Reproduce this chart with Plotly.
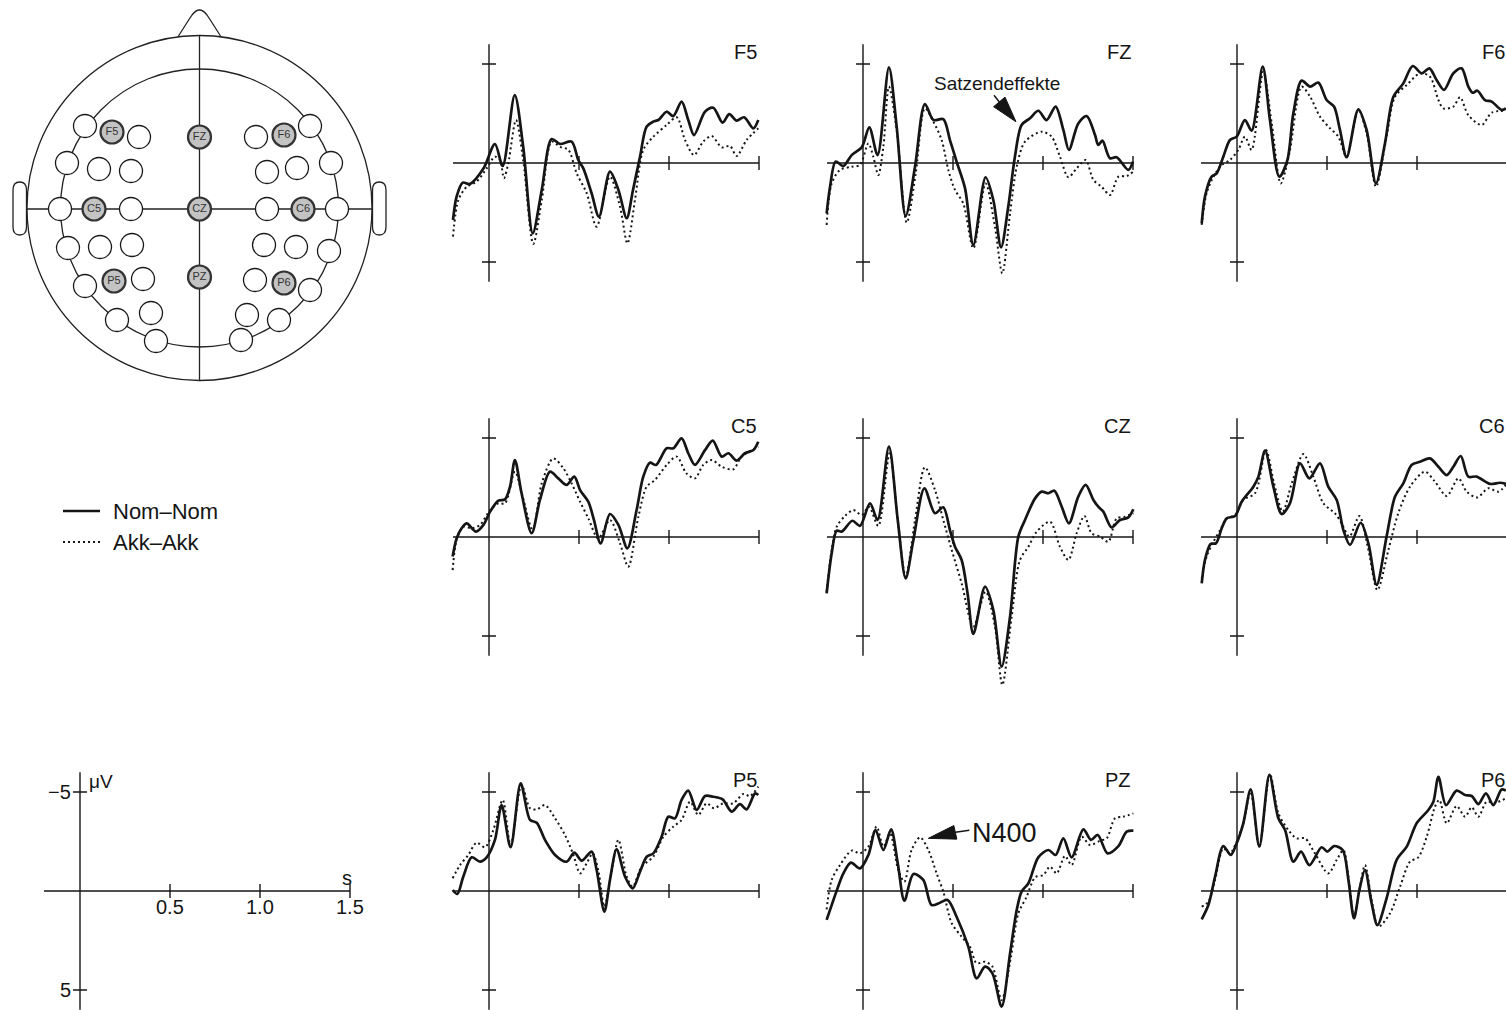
import plotly.graph_objects as go

W, H = 1506, 1010
S_PX = 180.0       # pixels per second on every time axis
UV_PX = 19.8       # pixels per microvolt on every amplitude axis
FONT = "Liberation Sans, Arial, Helvetica, sans-serif"
INK = "#151515"

# ---- grand-average ERPs: (time in s, amplitude in µV), negative plotted up ----
F5_NOM = [(-0.20, 2.88), (-0.18, 1.70), (-0.146, 0.99), (-0.106, 1.06), (-0.03, 0.27), (0.033, -0.96),
          (0.076, 0.15), (0.143, -3.43), (0.19, -0.82), (0.243, 3.55), (0.293, 1.36), (0.348, -1.21),
          (0.394, -0.96), (0.459, -1.08), (0.496, -0.15), (0.524, 0.27), (0.57, 1.53), (0.611, 2.71),
          (0.672, 0.44), (0.719, 1.36), (0.765, 2.79), (0.80, 1.36), (0.839, -0.32), (0.876, -1.84),
          (0.913, -2.09), (0.941, -2.17), (0.987, -2.59), (1.024, -2.37), (1.07, -3.10), (1.107, -2.17),
          (1.139, -1.41), (1.20, -2.59), (1.246, -2.79), (1.298, -2.04), (1.335, -2.47), (1.376, -2.14),
          (1.417, -2.31), (1.469, -1.75), (1.496, -2.17)]
F5_AKK = [(-0.20, 3.72), (-0.17, 1.87), (-0.124, 1.20), (-0.069, 0.94), (-0.013, 0.27), (0.033, -0.32),
          (0.061, -0.15), (0.083, 0.77), (0.107, 0.02), (0.15, -2.17), (0.19, -0.15), (0.246, 4.09),
          (0.293, 1.87), (0.348, -1.08), (0.394, -0.82), (0.441, -0.66), (0.487, 0.52), (0.543, 1.53),
          (0.598, 3.22), (0.672, 0.69), (0.728, 2.21), (0.769, 4.06), (0.811, 1.87), (0.857, -0.66),
          (0.913, -1.33), (0.987, -1.92), (1.043, -2.31), (1.089, -1.16), (1.139, -0.40), (1.19, -1.08),
          (1.237, -1.36), (1.293, -0.79), (1.339, -0.86), (1.376, -0.35), (1.431, -1.16), (1.496, -1.75)]

FZ_NOM = [(-0.202, 2.54), (-0.183, 1.20), (-0.152, -0.07), (-0.109, 0.15), (-0.063, -0.40), (-0.007, -0.79),
          (0.035, -1.80), (0.081, -0.40), (0.144, -4.83), (0.187, -1.84), (0.237, 2.68), (0.289, 0.19),
          (0.344, -2.98), (0.391, -2.17), (0.446, -2.21), (0.483, -1.16), (0.52, -0.07), (0.567, 1.28),
          (0.613, 4.14), (0.681, 0.72), (0.724, 1.87), (0.767, 4.26), (0.807, 2.21), (0.844, -0.32),
          (0.881, -1.92), (0.928, -2.26), (0.974, -2.64), (1.02, -2.17), (1.07, -2.85), (1.113, -1.67),
          (1.144, -0.66), (1.196, -2.00), (1.243, -2.37), (1.289, -1.41), (1.307, -0.91), (1.33, -1.13),
          (1.372, -0.24), (1.409, -0.29), (1.474, 0.35), (1.50, -0.07)]
FZ_AKK = [(-0.202, 3.13), (-0.174, 1.03), (-0.128, 0.35), (-0.063, 0.19), (-0.017, 0.10), (0.03, -0.99),
          (0.057, -0.32), (0.085, 0.61), (0.113, -0.82), (0.144, -3.86), (0.187, -1.67), (0.243, 3.01),
          (0.293, 0.52), (0.344, -2.76), (0.391, -2.09), (0.437, -1.16), (0.474, 0.35), (0.511, 1.36),
          (0.557, 2.04), (0.613, 4.31), (0.681, 1.03), (0.733, 3.22), (0.774, 5.57), (0.817, 2.54),
          (0.854, 0.19), (0.90, -1.08), (0.993, -1.58), (1.048, -1.33), (1.094, -0.32), (1.141, 0.72),
          (1.187, 0.27), (1.237, -0.15), (1.28, 0.86), (1.326, 1.20), (1.372, 1.62), (1.419, 0.69),
          (1.465, 0.66), (1.50, 0.44)]

F6_NOM = [(-0.196, 3.05), (-0.178, 1.70), (-0.141, 0.69), (-0.113, 0.52), (-0.076, -0.32), (-0.039, -1.16),
          (-0.002, -1.33), (0.044, -2.17), (0.081, -1.63), (0.143, -4.87), (0.183, -2.17), (0.235, 0.69),
          (0.28, -0.15), (0.313, -2.51), (0.359, -4.16), (0.406, -3.86), (0.452, -4.06), (0.498, -3.18),
          (0.539, -2.85), (0.572, -1.67), (0.609, -0.29), (0.674, -2.71), (0.72, -1.67), (0.772, 1.03),
          (0.822, -0.99), (0.869, -3.35), (0.924, -4.02), (0.976, -4.90), (1.026, -4.53), (1.069, -4.78),
          (1.109, -4.19), (1.15, -3.69), (1.202, -4.53), (1.248, -4.78), (1.285, -3.86), (1.309, -3.55),
          (1.335, -3.65), (1.378, -3.18), (1.415, -3.10), (1.47, -2.68), (1.494, -2.76)]
F6_AKK = [(-0.196, 3.13), (-0.169, 1.53), (-0.131, 0.69), (-0.085, 0.10), (-0.039, -0.15), (0.007, -0.66),
          (0.044, -1.33), (0.081, -0.66), (0.146, -4.61), (0.193, -2.00), (0.243, 1.03), (0.291, -0.49),
          (0.359, -3.86), (0.406, -3.35), (0.461, -2.34), (0.517, -1.75), (0.563, -1.33), (0.609, -0.32),
          (0.674, -2.68), (0.72, -1.50), (0.772, 1.20), (0.831, -1.33), (0.878, -3.35), (0.943, -3.94),
          (1.017, -4.53), (1.072, -4.36), (1.119, -3.18), (1.146, -2.76), (1.202, -2.85), (1.239, -3.32),
          (1.285, -2.42), (1.359, -1.92), (1.415, -2.54), (1.494, -2.64)]

C5_NOM = [(-0.202, 0.99), (-0.18, 0.07), (-0.152, -0.44), (-0.124, -0.69), (-0.072, -0.27), (-0.031, -0.61),
          (0.006, -1.28), (0.052, -1.84), (0.089, -1.90), (0.117, -2.54), (0.144, -3.89), (0.181, -2.21),
          (0.237, -0.19), (0.283, -1.87), (0.339, -3.30), (0.385, -2.96), (0.431, -2.63), (0.474, -3.05),
          (0.506, -2.37), (0.552, -1.78), (0.583, -0.86), (0.62, 0.32), (0.672, -1.16), (0.719, -0.61),
          (0.769, 0.57), (0.82, -1.36), (0.857, -3.05), (0.894, -3.75), (0.928, -3.64), (0.987, -4.48),
          (1.024, -4.48), (1.07, -4.98), (1.107, -4.23), (1.144, -3.64), (1.20, -4.39), (1.243, -4.87),
          (1.293, -4.06), (1.33, -4.23), (1.376, -3.86), (1.422, -4.23), (1.469, -4.39), (1.496, -4.81)]
C5_AKK = [(-0.202, 1.67), (-0.18, 0.15), (-0.143, -0.52), (-0.096, -0.44), (-0.05, -0.61), (0.006, -1.36),
          (0.052, -1.70), (0.089, -1.70), (0.144, -3.30), (0.187, -2.04), (0.243, -0.35), (0.293, -2.71),
          (0.357, -3.97), (0.413, -3.47), (0.459, -2.71), (0.506, -1.78), (0.552, -0.94), (0.607, 0.07),
          (0.672, -0.86), (0.728, 0.32), (0.774, 1.50), (0.83, -1.03), (0.876, -2.54), (0.922, -2.88),
          (0.987, -3.64), (1.043, -4.06), (1.096, -3.22), (1.144, -2.96), (1.19, -3.64), (1.237, -3.89),
          (1.293, -3.55), (1.357, -3.42), (1.404, -4.06), (1.496, -4.56)]

CZ_NOM = [(-0.202, 2.85), (-0.174, 0.82), (-0.146, -0.32), (-0.119, -0.27), (-0.059, -0.82), (-0.017, -0.56),
          (0.039, -1.70), (0.081, -0.86), (0.144, -4.56), (0.193, -0.86), (0.237, 2.09), (0.28, 0.15),
          (0.341, -2.46), (0.40, -1.20), (0.446, -1.50), (0.483, -0.35), (0.511, 0.49), (0.548, 1.16),
          (0.581, 2.85), (0.613, 4.90), (0.678, 2.51), (0.724, 3.69), (0.77, 6.55), (0.817, 4.02),
          (0.863, -0.02), (0.90, -0.86), (0.956, -1.95), (0.993, -2.29), (1.03, -2.21), (1.063, -2.34),
          (1.104, -1.53), (1.144, -0.69), (1.196, -2.04), (1.237, -2.63), (1.28, -1.87), (1.307, -1.53),
          (1.335, -1.28), (1.381, -0.49), (1.428, -0.86), (1.474, -0.99), (1.502, -1.40)]
CZ_AKK = [(-0.202, 2.76), (-0.174, 0.66), (-0.146, -0.52), (-0.10, -1.06), (-0.054, -1.36), (-0.007, -1.11),
          (0.033, -1.53), (0.085, -0.56), (0.148, -4.23), (0.193, -0.86), (0.237, 2.00), (0.289, -0.86),
          (0.344, -3.52), (0.40, -2.37), (0.446, -0.86), (0.493, 0.66), (0.548, 2.34), (0.613, 4.53),
          (0.681, 2.76), (0.733, 4.53), (0.774, 7.47), (0.826, 4.02), (0.872, 1.16), (0.919, 0.49),
          (0.965, -0.27), (1.039, -0.77), (1.094, 0.49), (1.141, 1.16), (1.187, -0.19), (1.23, -1.06),
          (1.27, -0.19), (1.317, -0.02), (1.363, 0.24), (1.409, -0.94), (1.456, -1.03), (1.502, -1.20)]

C6_NOM = [(-0.196, 2.34), (-0.178, 1.16), (-0.146, 0.35), (-0.117, 0.32), (-0.085, -0.44), (-0.057, -0.94),
          (-0.011, -1.06), (0.026, -1.78), (0.091, -2.54), (0.119, -3.05), (0.156, -4.36), (0.202, -2.54),
          (0.248, -1.16), (0.294, -1.70), (0.35, -3.72), (0.402, -2.96), (0.461, -3.72), (0.507, -2.54),
          (0.554, -1.87), (0.591, -0.35), (0.628, 0.40), (0.687, -0.72), (0.73, 0.32), (0.776, 2.42),
          (0.831, -0.02), (0.878, -2.04), (0.924, -2.71), (0.97, -3.64), (1.017, -3.80), (1.072, -3.97),
          (1.119, -3.55), (1.165, -3.13), (1.202, -3.55), (1.243, -4.09), (1.285, -3.05), (1.331, -3.05),
          (1.406, -2.68), (1.461, -2.74), (1.494, -2.68)]
C6_AKK = [(-0.196, 2.09), (-0.169, 0.99), (-0.131, 0.24), (-0.094, -0.35), (-0.057, -0.94), (-0.011, -1.11),
          (0.035, -1.87), (0.10, -2.21), (0.161, -4.39), (0.206, -2.71), (0.254, -1.28), (0.304, -2.71),
          (0.369, -4.19), (0.424, -3.05), (0.48, -1.70), (0.544, -1.20), (0.581, -0.69), (0.624, -0.02),
          (0.68, -1.06), (0.73, 0.66), (0.78, 2.68), (0.841, 0.66), (0.896, -1.20), (0.961, -2.54),
          (1.044, -3.30), (1.10, -2.79), (1.165, -2.07), (1.23, -2.96), (1.276, -2.29), (1.335, -2.00),
          (1.396, -2.46), (1.452, -2.29), (1.494, -2.63)]

P5_NOM = [(-0.202, -0.05), (-0.176, 0.15), (-0.143, -0.72), (-0.096, -1.70), (-0.05, -1.48), (-0.013, -1.70),
          (0.033, -2.58), (0.07, -4.34), (0.12, -2.21), (0.176, -5.44), (0.228, -3.59), (0.265, -3.45),
          (0.311, -2.58), (0.367, -1.82), (0.431, -1.48), (0.474, -1.94), (0.515, -1.53), (0.57, -1.99),
          (0.598, -1.06), (0.641, 1.04), (0.672, -0.56), (0.709, -2.10), (0.756, -0.72), (0.798, -0.13),
          (0.839, -0.98), (0.876, -1.73), (0.913, -1.90), (0.959, -2.74), (0.996, -3.75), (1.033, -3.67),
          (1.07, -4.60), (1.107, -5.07), (1.154, -4.09), (1.20, -4.80), (1.246, -4.76), (1.298, -4.63),
          (1.348, -4.01), (1.394, -4.39), (1.431, -4.12), (1.478, -4.93), (1.496, -4.85)]
P5_AKK = [(-0.202, -0.64), (-0.161, -1.31), (-0.115, -1.82), (-0.069, -2.44), (-0.022, -2.21), (0.024, -3.08),
          (0.076, -4.60), (0.12, -2.32), (0.181, -5.35), (0.228, -4.18), (0.265, -4.12), (0.311, -4.34),
          (0.367, -3.67), (0.422, -2.83), (0.469, -1.82), (0.506, -0.89), (0.543, -1.40), (0.576, -1.90),
          (0.607, -1.06), (0.641, 0.79), (0.676, -0.72), (0.719, -2.58), (0.765, -0.72), (0.798, -0.22),
          (0.848, -1.23), (0.913, -1.73), (0.969, -2.74), (1.024, -3.25), (1.07, -3.59), (1.117, -4.51),
          (1.163, -3.84), (1.209, -4.43), (1.25, -4.18), (1.302, -4.43), (1.357, -4.43), (1.413, -4.90),
          (1.45, -4.80), (1.496, -5.27)]

PZ_NOM = [(-0.202, 1.46), (-0.174, 0.71), (-0.146, -0.02), (-0.109, -0.89), (-0.067, -1.43), (-0.017, -1.14),
          (0.03, -1.82), (0.07, -3.08), (0.113, -2.07), (0.156, -3.11), (0.193, -1.40), (0.23, 0.49),
          (0.28, -0.86), (0.335, -0.56), (0.381, 0.71), (0.428, 0.59), (0.47, 0.45), (0.52, 1.30),
          (0.585, 2.81), (0.631, 4.41), (0.678, 3.82), (0.719, 4.16), (0.77, 5.84), (0.817, 3.15),
          (0.854, 0.96), (0.881, 0.03), (0.919, -0.39), (0.974, -1.70), (1.03, -2.07), (1.07, -1.82),
          (1.113, -2.66), (1.159, -1.70), (1.224, -3.11), (1.267, -2.58), (1.304, -2.83), (1.359, -1.90),
          (1.419, -2.27), (1.465, -3.00), (1.502, -3.05)]
PZ_AKK = [(-0.202, 0.93), (-0.174, -0.56), (-0.128, -1.31), (-0.063, -2.04), (-0.017, -1.90), (0.03, -2.24),
          (0.076, -3.25), (0.113, -2.24), (0.15, -2.91), (0.196, -1.06), (0.23, -0.47), (0.27, -2.07),
          (0.317, -2.71), (0.363, -2.07), (0.409, -0.89), (0.446, 0.03), (0.493, 1.63), (0.548, 2.31),
          (0.594, 2.81), (0.631, 3.65), (0.678, 3.57), (0.719, 3.82), (0.77, 5.51), (0.822, 3.32),
          (0.863, 1.13), (0.909, 0.29), (0.956, -0.69), (1.002, -0.81), (1.039, -1.23), (1.076, -0.89),
          (1.122, -1.77), (1.159, -1.31), (1.215, -2.74), (1.261, -2.32), (1.317, -2.54), (1.354, -2.66),
          (1.40, -3.67), (1.446, -3.75), (1.502, -3.92)]

P6_NOM = [(-0.196, 1.43), (-0.159, 0.71), (-0.122, -0.72), (-0.076, -2.27), (-0.035, -1.82), (-0.002, -2.41),
          (0.035, -3.42), (0.076, -5.13), (0.124, -2.24), (0.18, -5.86), (0.23, -3.67), (0.267, -3.08),
          (0.313, -1.48), (0.356, -1.99), (0.402, -1.31), (0.47, -2.21), (0.502, -1.99), (0.539, -2.27),
          (0.587, -2.07), (0.619, -0.56), (0.65, 1.38), (0.68, -0.05), (0.711, -1.06), (0.748, 0.62),
          (0.78, 1.72), (0.831, 0.37), (0.887, -1.57), (0.943, -2.24), (0.998, -3.42), (1.063, -4.09),
          (1.091, -4.51), (1.119, -5.77), (1.161, -4.34), (1.22, -5.07), (1.267, -4.85), (1.304, -4.80),
          (1.341, -4.39), (1.383, -4.93), (1.424, -4.34), (1.47, -5.13), (1.494, -5.07)]
P6_AKK = [(-0.196, 0.79), (-0.159, 0.54), (-0.122, -0.56), (-0.076, -2.15), (-0.039, -1.90), (-0.002, -2.49),
          (0.035, -3.42), (0.076, -5.02), (0.124, -2.24), (0.183, -5.91), (0.23, -3.92), (0.285, -3.08),
          (0.331, -2.66), (0.378, -2.66), (0.433, -1.90), (0.507, -0.89), (0.554, -1.57), (0.591, -2.07),
          (0.619, -0.72), (0.65, 1.30), (0.68, -0.05), (0.711, -1.31), (0.748, 0.45), (0.785, 1.80),
          (0.85, 1.13), (0.906, -0.22), (0.961, -1.48), (1.007, -1.70), (1.054, -2.74), (1.10, -4.26),
          (1.124, -4.60), (1.165, -3.42), (1.22, -4.29), (1.267, -3.75), (1.304, -4.23), (1.341, -3.75),
          (1.387, -4.51), (1.433, -4.46), (1.494, -4.68)]

PANELS = [
    ("F5", 0, 0, F5_NOM, F5_AKK), ("FZ", 0, 1, FZ_NOM, FZ_AKK), ("F6", 0, 2, F6_NOM, F6_AKK),
    ("C5", 1, 0, C5_NOM, C5_AKK), ("CZ", 1, 1, CZ_NOM, CZ_AKK), ("C6", 1, 2, C6_NOM, C6_AKK),
    ("P5", 2, 0, P5_NOM, P5_AKK), ("PZ", 2, 1, PZ_NOM, PZ_AKK), ("P6", 2, 2, P6_NOM, P6_AKK),
]
CONDITIONS = ["Nom\u2013Nom", "Akk\u2013Akk"]
T_TICKS = [0.5, 1.0, 1.5]
T_TICK_LABELS = ["0.5", "1.0", "1.5"]
V_TICKS = [-5, 5]
V_TICK_LABELS = ["\u22125", "5"]
T_START, T_END = -0.2, 1.5
V_AXIS = 6.0

# pixel position of the (0 s, 0 µV) origin of each panel
COL_ZERO = [489, 863, 1237]
ROW_ZERO = [163, 537, 891]
SCALE_ZERO = (80, 891)

# electrode montage drawn on the head (head drawing units = pixels)
ELECTRODES = [
    (85, 126, ""), (112, 132, "F5"), (139, 137, ""), (199.5, 137, "FZ"), (256, 137, ""), (284, 135, "F6"),
    (310, 126, ""), (67, 163, ""), (99, 169, ""), (131, 171, ""), (267, 172, ""), (297, 168, ""),
    (331, 163, ""), (60, 209, ""), (94, 209, "C5"), (131, 209, ""), (199.5, 209, "CZ"), (267, 209, ""),
    (303, 209, "C6"), (337, 209, ""), (68, 248, ""), (100, 247, ""), (132, 245, ""), (264, 245, ""),
    (296, 247, ""), (329, 251, ""), (85, 286, ""), (114, 281, "P5"), (143, 279, ""), (199.5, 277, "PZ"),
    (255, 280, ""), (284, 283, "P6"), (310, 290, ""), (117, 320, ""), (151, 313, ""), (247, 315, ""),
    (279, 320, ""), (156, 341, ""), (241, 340, ""),
]
HEAD_C = (199.5, 208.0)
HEAD_R_OUT = 172.5
HEAD_R_IN = 139.0

fig = go.Figure()
layout_axes = {}
shapes = []
annotations = []


def px_to_paper(x, y):
    return x / W, 1 - y / H


def add_axes(k, x0, y0):
    t_lo, t_hi = -0.22, min(1.53, (W - x0) / S_PX)
    v_lo, v_hi = -8.0, min(8.0, (H - y0) / UV_PX)
    sfx = "" if k == 1 else str(k)
    xd = [max(0.0, (x0 + t_lo * S_PX) / W), min(1.0, (x0 + t_hi * S_PX) / W)]
    yd = [max(0.0, 1 - (y0 + v_hi * UV_PX) / H), min(1.0, 1 - (y0 + v_lo * UV_PX) / H)]
    layout_axes["xaxis" + sfx] = dict(domain=xd, range=[t_lo, t_hi], visible=False, fixedrange=True)
    layout_axes["yaxis" + sfx] = dict(domain=yd, range=[v_hi, v_lo], visible=False, fixedrange=True)
    return "x" + sfx, "y" + sfx, v_hi


def draw_frame(xr, yr, v_bottom):
    ax_line = dict(color=INK, width=1.4)
    shapes.append(dict(type="line", xref=xr, yref=yr, x0=0, x1=0, y0=-V_AXIS, y1=min(V_AXIS, v_bottom),
                       line=ax_line, layer="below"))
    shapes.append(dict(type="line", xref=xr, yref=yr, x0=T_START, x1=T_END, y0=0, y1=0,
                       line=ax_line, layer="below"))
    fig.add_trace(go.Scatter(x=T_TICKS, y=[0] * len(T_TICKS), xaxis=xr, yaxis=yr, mode="markers",
                             marker=dict(symbol="line-ns", size=10, line=dict(width=1.4, color=INK)),
                             hoverinfo="skip", showlegend=False))
    fig.add_trace(go.Scatter(x=[0] * len(V_TICKS), y=V_TICKS, xaxis=xr, yaxis=yr, mode="markers",
                             marker=dict(symbol="line-ew", size=10, line=dict(width=1.4, color=INK)),
                             hoverinfo="skip", showlegend=False))


SOLID = dict(color=INK, width=2.7, shape="spline", smoothing=0.85)
DOTTED = dict(color=INK, width=2.0, dash="2px,3px", shape="spline", smoothing=0.85)

axis_of = {}
for k, (name, row, col, nom, akk) in enumerate(PANELS, start=1):
    x0, y0 = COL_ZERO[col], ROW_ZERO[row]
    xr, yr, v_bottom = add_axes(k, x0, y0)
    axis_of[name] = (xr, yr)
    draw_frame(xr, yr, v_bottom)
    fig.add_trace(go.Scatter(x=[p[0] for p in akk], y=[p[1] for p in akk], xaxis=xr, yaxis=yr,
                             mode="lines", line=DOTTED, hoverinfo="skip", showlegend=False))
    fig.add_trace(go.Scatter(x=[p[0] for p in nom], y=[p[1] for p in nom], xaxis=xr, yaxis=yr,
                             mode="lines", line=SOLID, hoverinfo="skip", showlegend=False))
    lx, ly = px_to_paper(x0 + T_END * S_PX, y0 - 5.6 * UV_PX)
    annotations.append(dict(text=name, x=lx, y=ly, xref="paper", yref="paper", xanchor="right",
                            yanchor="middle", showarrow=False, font=dict(size=20, family=FONT, color=INK)))

# calibration axes (scale panel)
sx_r, sy_r, s_bottom = add_axes(10, *SCALE_ZERO)
draw_frame(sx_r, sy_r, s_bottom)
for t, lab in zip(T_TICKS, T_TICK_LABELS):
    annotations.append(dict(text=lab, x=t, y=0, xref=sx_r, yref=sy_r, yshift=-16, xanchor="center",
                            yanchor="middle", showarrow=False, font=dict(size=20, family=FONT, color=INK)))
for v, lab in zip(V_TICKS, V_TICK_LABELS):
    annotations.append(dict(text=lab, x=0, y=v, xref=sx_r, yref=sy_r, xshift=-7, xanchor="right",
                            yanchor="middle", showarrow=False, font=dict(size=20, family=FONT, color=INK)))
annotations.append(dict(text="s", x=1.5, y=0, xref=sx_r, yref=sy_r, xshift=-3, yshift=13, xanchor="center",
                        yanchor="middle", showarrow=False, font=dict(size=20, family=FONT, color=INK)))
annotations.append(dict(text="\u03bcV", x=0, y=-V_AXIS, xref=sx_r, yref=sy_r, xshift=7, yshift=-9,
                        xanchor="left", yanchor="middle", showarrow=False,
                        font=dict(size=19, family=FONT, color=INK)))

# legend
for i, (lab, dash, wid) in enumerate(zip(CONDITIONS, ["solid", "2px,3px"], [2.7, 2.0])):
    yy = 511 + i * 31
    x_a, y_a = px_to_paper(63, yy)
    x_b, _ = px_to_paper(100, yy)
    shapes.append(dict(type="line", xref="paper", yref="paper", x0=x_a, x1=x_b, y0=y_a, y1=y_a,
                       line=dict(color=INK, width=wid, dash=dash)))
    tx, _ = px_to_paper(111, yy)
    annotations.append(dict(text=lab, x=tx, y=y_a, xref="paper", yref="paper", xanchor="left",
                            yanchor="middle", showarrow=False, font=dict(size=22, family=FONT, color=INK)))

# annotations with filled arrow heads
fzx, fzy = axis_of["FZ"]
annotations.append(dict(text="Satzendeffekte", x=0.744, y=-4.04, xref=fzx, yref=fzy, xanchor="center",
                        yanchor="middle", showarrow=False, font=dict(size=19, family=FONT, color=INK)))
shapes.append(dict(type="path", xref=fzx, yref=fzy, xsizemode="pixel", ysizemode="pixel",
                   xanchor=0.85, yanchor=-2.08, path="M 0 0 L -11.0 24.7 L -22.4 15.1 Z",
                   fillcolor=INK, line=dict(color=INK, width=1)))
shapes.append(dict(type="path", xref=fzx, yref=fzy, xsizemode="pixel", ysizemode="pixel",
                   xanchor=0.85, yanchor=-2.08, path="M -16.7 19.9 L -22 26.5",
                   line=dict(color=INK, width=1.5)))

pzx, pzy = axis_of["PZ"]
annotations.append(dict(text="N400", x=0.594, y=-2.93, xref=pzx, yref=pzy, xanchor="left",
                        yanchor="middle", showarrow=False, font=dict(size=27, family=FONT, color=INK)))
shapes.append(dict(type="path", xref=pzx, yref=pzy, xsizemode="pixel", ysizemode="pixel",
                   xanchor=0.363, yanchor=-2.66, path="M 0 0 L 25.5 12.8 L 28.5 -0.8 Z",
                   fillcolor=INK, line=dict(color=INK, width=1)))
shapes.append(dict(type="path", xref=pzx, yref=pzy, xsizemode="pixel", ysizemode="pixel",
                   xanchor=0.363, yanchor=-2.66, path="M 27 6 L 41 8",
                   line=dict(color=INK, width=1.5)))

# head with electrode montage
layout_axes["xaxis11"] = dict(domain=[0, 400 / W], range=[0, 400], visible=False, fixedrange=True)
layout_axes["yaxis11"] = dict(domain=[1 - 390 / H, 1], range=[390, 0], visible=False, fixedrange=True)
HL = dict(color="#222222", width=1.3)
cx, cy = HEAD_C
# ears and nose first, the head outline is laid over their inner edges
for ex0, ex1 in [(13, 26.5), (372.5, 386)]:
    xm = (ex0 + ex1) / 2
    shapes.append(dict(type="path", xref="x11", yref="y11",
                       path=f"M {ex0} 190 Q {ex0} 182 {xm} 182 Q {ex1} 182 {ex1} 190 L {ex1} 227 "
                            f"Q {ex1} 235 {xm} 235 Q {ex0} 235 {ex0} 227 Z",
                       fillcolor="white", line=HL, layer="below"))
shapes.append(dict(type="path", xref="x11", yref="y11",
                   path="M 176 40 Q 186 24 192 15 Q 199.5 5 207 15 Q 213 24 223 40 Z",
                   fillcolor="white", line=HL, layer="below"))
shapes.append(dict(type="circle", xref="x11", yref="y11", x0=cx - HEAD_R_OUT, x1=cx + HEAD_R_OUT,
                   y0=cy - HEAD_R_OUT, y1=cy + HEAD_R_OUT, fillcolor="white", line=HL, layer="below"))
shapes.append(dict(type="circle", xref="x11", yref="y11", x0=cx - HEAD_R_IN, x1=cx + HEAD_R_IN,
                   y0=cy - HEAD_R_IN, y1=cy + HEAD_R_IN, line=HL, layer="below"))
shapes.append(dict(type="line", xref="x11", yref="y11", x0=cx, x1=cx, y0=cy - HEAD_R_OUT, y1=cy + HEAD_R_OUT,
                   line=HL, layer="below"))
shapes.append(dict(type="line", xref="x11", yref="y11", x0=cx - HEAD_R_OUT, x1=cx + HEAD_R_OUT, y0=209, y1=209,
                   line=HL, layer="below"))

plain = [e for e in ELECTRODES if not e[2]]
marked = [e for e in ELECTRODES if e[2]]
fig.add_trace(go.Scatter(x=[e[0] for e in plain], y=[e[1] for e in plain], xaxis="x11", yaxis="y11",
                         mode="markers", marker=dict(size=23, color="white", line=dict(color="#1a1a1a", width=1.3)),
                         hoverinfo="skip", showlegend=False))
fig.add_trace(go.Scatter(x=[e[0] for e in marked], y=[e[1] for e in marked], xaxis="x11", yaxis="y11",
                         mode="markers+text", text=[e[2] for e in marked], textposition="middle center",
                         textfont=dict(size=11, family=FONT, color="#333333"),
                         marker=dict(size=23, color="#c3c3c3", line=dict(color="#333333", width=2.2)),
                         hoverinfo="skip", showlegend=False))

fig.update_layout(
    width=W, height=H, margin=dict(l=0, r=0, t=0, b=0),
    paper_bgcolor="white", plot_bgcolor="rgba(0,0,0,0)",
    showlegend=False, shapes=shapes, annotations=annotations,
    font=dict(family=FONT, color=INK),
    **layout_axes,
)
fig.write_html("out.html")
